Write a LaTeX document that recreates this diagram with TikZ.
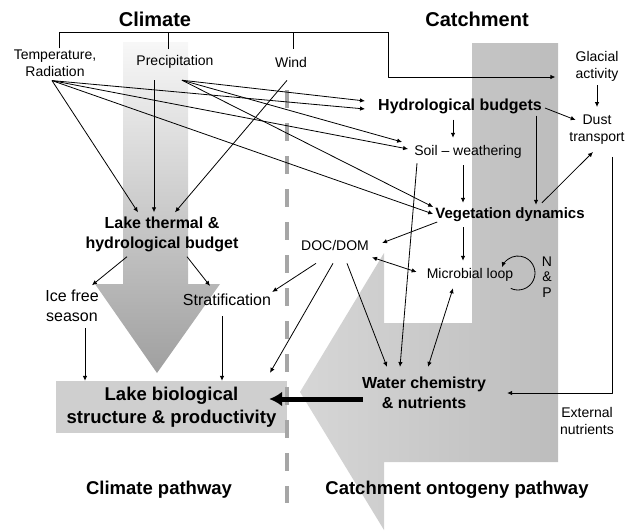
\documentclass[tikz,border=0pt]{standalone}
\usepackage{fontspec}
\setmainfont{Liberation Sans}
\usetikzlibrary{arrows.meta}

\begin{document}
\begin{tikzpicture}[x=1pt,y=-1pt,>={Latex[length=5pt,width=4.5pt]},line join=bevel,
    txt/.style={align=center,inner sep=1pt,font=\fontsize{14}{17}\selectfont},
    bigtxt/.style={align=center,inner sep=1pt,font=\fontsize{16}{19.5}\selectfont},
    boldtxt/.style={align=center,inner sep=1pt,font=\bfseries\fontsize{16}{20}\selectfont},
    headtxt/.style={align=center,inner sep=1pt,font=\bfseries\fontsize{18.5}{23}\selectfont},
    titletxt/.style={inner sep=1pt,font=\bfseries\fontsize{20}{24}\selectfont},
    link/.style={color=black,line width=0.8pt,->},
    plain/.style={color=black,line width=0.8pt}]
        %
        \useasboundingbox (0,0) rectangle (626,531);
        \shade[top color=gray!6,bottom color=gray!75] (123,42) -- (188,42) -- (188,284) -- (220,284) -- (157,373) -- (95,284) -- (123,284) -- cycle;
        \shade[left color=gray!32,right color=gray!52] (472,43) -- (558,43) -- (558,462) -- (384,462) -- (384,530) -- (300,392) -- (384,253) -- (384,323) -- (472,323) -- cycle;
        \node[headtxt,fill=gray!38,minimum width=231pt,minimum height=52pt] (lakebio) at (171.5,407) {Lake biological\\structure \& productivity};
        \draw[gray!70,line width=3.5pt,dash pattern=on 18pt off 15pt] (287,90) -- (287,503);
        %
        \node[titletxt] (climate) at (155,19.5) {Climate};
        \node[titletxt] (catchment) at (477,19) {Catchment};
        \node[txt] (temp) at (55,63) {Temperature,\\Radiation};
        \node[txt] (precip) at (175,62) {Precipitation};
        \node[txt] (wind) at (291,62) {Wind};
        \node[txt] (glacial) at (597,66) {Glacial\\activity};
        \node[boldtxt] (hydro) at (460,106) {Hydrological budgets};
        \node[txt] (dust) at (597,130) {Dust\\transport};
        \node[txt] (soil) at (468,151.5) {Soil – weathering};
        \node[boldtxt,font=\bfseries\fontsize{15}{18}\selectfont] (veg) at (510,215) {Vegetation dynamics};
        \node[txt] (doc) at (335,245) {DOC/DOM};
        \node[txt] (microbial) at (470,275) {Microbial loop};
        \node[txt,font=\fontsize{14}{15.5}\selectfont] (np) at (547,277) {N\\\&\\P};
        \node[boldtxt] (lakethermal) at (162,234) {Lake thermal \&\\hydrological budget};
        \node[bigtxt] (ice) at (72,306) {Ice free\\season};
        \node[bigtxt] (strat) at (227,300) {Stratification};
        \node[boldtxt] (water) at (424,393) {Water chemistry\\\& nutrients};
        \node[txt] (external) at (587,421) {External\\nutrients};
        \node[headtxt] (climpath) at (159,490) {Climate pathway};
        \node[headtxt] (catchpath) at (457,490) {Catchment ontogeny pathway};
        %
        \coordinate (bar) at (388,32);
        \coordinate (bend) at (388,77);
        \draw[plain] ([xshift=4pt]temp.north) |- (bar);
        \draw[plain] ([xshift=-7pt,yshift=5pt]precip.north) -- ([xshift=-7pt]precip.north |- bar);
        \draw[plain] ([xshift=2pt,yshift=7pt]wind.north) -- ([xshift=2pt]wind.north |- bar);
        \draw[link] (bar) -- (bend) -- ([xshift=-19pt]glacial.west |- bend);
        %
        \draw[link] ([xshift=-3pt,yshift=-3pt]temp.south) -- ([xshift=-24pt,yshift=3pt]lakethermal.north);
        \draw[link] ([xshift=-21pt,yshift=-10.5pt]precip.south) -- ([xshift=-8pt,yshift=3pt]lakethermal.north);
        \draw[link] ([xshift=-4pt,yshift=-12pt]wind.south) -- ([xshift=13pt,yshift=3pt]lakethermal.north);
        \draw[link] ([xshift=7pt,yshift=-10.5pt]precip.south) -- ([xshift=-12pt,yshift=5pt]hydro.west);
        \draw[link] ([xshift=-3pt,yshift=-3pt]temp.south) -- ([xshift=-12pt,yshift=-3pt]hydro.west);
        \draw[link] ([xshift=7pt,yshift=-10.5pt]precip.south) -- ([xshift=-11pt,yshift=9.5pt]soil.west);
        \draw[link] ([xshift=-3pt,yshift=-3pt]temp.south) -- ([xshift=-5pt,yshift=2.5pt]soil.west);
        \draw[link] ([xshift=7pt,yshift=-10.5pt]precip.south) -- ([xshift=-1pt,yshift=8pt]veg.west);
        \draw[link] ([xshift=-3pt,yshift=-3pt]temp.south) -- ([xshift=-1pt,yshift=1pt]veg.west);
        %
        \draw[link] ([yshift=-3pt]glacial.south) -- ([yshift=7pt]dust.north);
        \draw[link] ([xshift=-7pt,yshift=-5pt]hydro.south) -- ([xshift=-15pt,yshift=6pt]soil.north);
        \draw[link] ([xshift=2pt,yshift=-2pt]hydro.east) -- ([xshift=7.5pt,yshift=10pt]dust.west);
        \draw[link] ([xshift=76pt,yshift=-1pt]hydro.south) -- ([xshift=26pt,yshift=2pt]veg.north);
        \draw[link] ([xshift=-5pt,yshift=-6pt]soil.south) -- ([xshift=-47pt,yshift=4pt]veg.north);
        \draw[link] ([xshift=-51pt,yshift=-4pt]soil.south) -- ([xshift=-24pt,yshift=9pt]water.north);
        \draw[link] ([xshift=32pt,yshift=4pt]veg.north) -- ([xshift=-4pt,yshift=-6pt]dust.south);
        \draw[link] ([xshift=3pt,yshift=-7pt]veg.west) -- ([xshift=12pt,yshift=2pt]doc.east);
        \draw[link] ([xshift=-47pt,yshift=-4pt]veg.south) -- ([xshift=-7pt,yshift=6.5pt]microbial.north);
        \draw[link,<->] ([xshift=2pt,yshift=-6pt]doc.south east) -- ([xshift=-9pt,yshift=3pt]microbial.west);
        \draw[link,<->] ([xshift=-17pt,yshift=-5.5pt]microbial.south) -- ([xshift=4pt,yshift=9pt]water.north);
        \draw[link] ([xshift=-29pt,yshift=4pt]np.center) ++(-115:17pt) arc[start angle=-115,end angle=160,radius=17pt];
        \draw[link] ([xshift=-19pt,yshift=-12pt]doc.south) -- ([yshift=1pt]strat.north east);
        \draw[link] ([xshift=-2pt,yshift=-12pt]doc.south) -- ([xshift=98.5pt,yshift=8pt]lakebio.north);
        \draw[link] ([xshift=12pt,yshift=-12pt]doc.south) -- ([xshift=-37pt,yshift=9pt]water.north);
        \draw[link] ([xshift=15pt,yshift=-11pt]dust.south) |- ([xshift=20pt]water.east);
        %
        \draw[link] ([xshift=-35pt,yshift=-4pt]lakethermal.south) -- ([xshift=20pt,yshift=4pt]ice.north);
        \draw[link] ([xshift=25pt,yshift=-4pt]lakethermal.south) -- ([xshift=-17pt,yshift=7pt]strat.north);
        \draw[link] ([xshift=13pt,yshift=-5pt]ice.south) -- ([xshift=-86.5pt]lakebio.north);
        \draw[link] ([xshift=-5pt,yshift=-9pt]strat.south) -- ([xshift=50.5pt]lakebio.north);
        \draw[color=black,line width=5pt,-{Latex[length=13pt,width=15pt]}] ([xshift=2pt,yshift=-6pt]water.west) -- ([xshift=-18pt,yshift=8pt]lakebio.east);
        %
\end{tikzpicture}
\end{document}
